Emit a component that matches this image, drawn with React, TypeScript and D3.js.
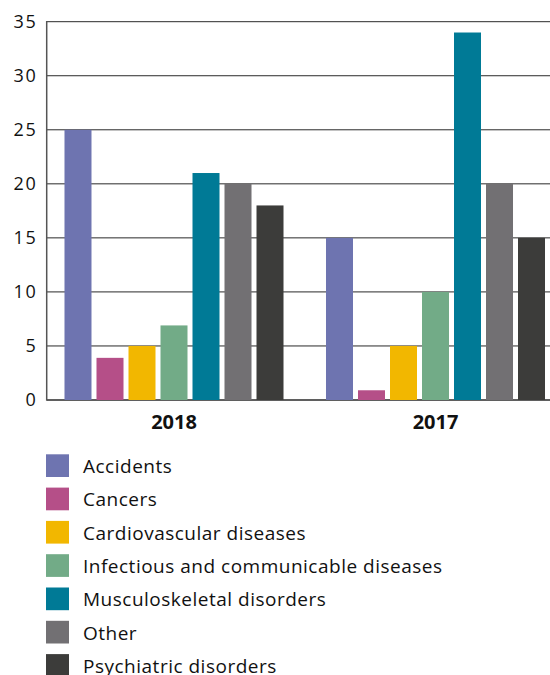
import React from "react";
import * as d3 from "d3";

// Years shown as groups along the x axis
const years = ["2018", "2017"];

// Cause categories, in legend / bar order
const causes = [
  "Accidents",
  "Cancers",
  "Cardiovascular diseases",
  "Infectious and communicable diseases",
  "Musculoskeletal disorders",
  "Other",
  "Psychiatric disorders",
];

const colors = ["#6e74b0", "#b54f88", "#f2b700", "#72ab87", "#007a96", "#727073", "#3c3c3a"];

// Values per cause, one array per year
const values2018 = [25, 3.9, 5, 6.9, 21, 20, 18];
const values2017 = [15, 0.9, 5, 10, 34, 20, 15];

const yTicks = [0, 5, 10, 15, 20, 25, 30, 35];

const W = 550;
const H = 675;
const FONT = "'Open Sans', sans-serif";

export default function App() {
  const plotLeft = 47;
  const plotRight = 550;
  const y = d3.scaleLinear().domain([0, 35]).range([400, 21.7]);

  const x0 = d3
    .scaleBand<string>()
    .domain(years)
    .range([43.25, 566.25])
    .paddingInner(0.1625)
    .paddingOuter(0.08125);

  const x1 = d3
    .scaleBand<string>()
    .domain(causes)
    .range([0, x0.bandwidth()])
    .paddingInner(5 / 32);

  const byYear: Record<string, number[]> = { "2018": values2018, "2017": values2017 };

  const legendTop = 454.3;
  const legendStep = 33.3;

  return (
    <svg
      width={W}
      height={H}
      style={{ position: "absolute", left: 0, top: 0, background: "#fff" }}
      fontFamily={FONT}
    >
      {/* gridlines */}
      {yTicks.map((t) => (
        <line
          key={"g" + t}
          x1={plotLeft}
          x2={plotRight}
          y1={y(t)}
          y2={y(t)}
          stroke="#2a2a2a"
          strokeWidth={t === 0 ? 1.4 : 1}
        />
      ))}

      {/* bars */}
      {years.map((yr) => (
        <g key={yr} transform={`translate(${x0(yr)},0)`}>
          {causes.map((c, i) => (
            <rect
              key={c}
              x={x1(c)}
              y={y(byYear[yr][i])}
              width={x1.bandwidth()}
              height={y(0) - y(byYear[yr][i])}
              fill={colors[i]}
            />
          ))}
        </g>
      ))}

      {/* y axis line */}
      <line x1={46.7} x2={46.7} y1={21} y2={400.7} stroke="#555" strokeWidth={1.5} />

      {/* y tick labels */}
      {yTicks.map((t) => (
        <text
          key={"t" + t}
          x={37.2}
          y={y(t)}
          dy="0.35em"
          textAnchor="end"
          fontSize={18}
          letterSpacing={1.5}
          fill="#111"
        >
          {t}
        </text>
      ))}

      {/* year labels */}
      {years.map((yr) => (
        <text
          key={"yl" + yr}
          x={(x0(yr) ?? 0) + x0.bandwidth() / 2}
          y={429}
          textAnchor="middle"
          fontSize={20}
          fontWeight={700}
          fill="#111"
        >
          {yr}
        </text>
      ))}

      {/* legend */}
      {causes.map((c, i) => (
        <g key={"l" + c} transform={`translate(46,${legendTop + i * legendStep})`}>
          <rect width={23} height={22.7} fill={colors[i]} />
          <text x={37} y={18.7} fontSize={19} letterSpacing={0.5} fill="#111">
            {c}
          </text>
        </g>
      ))}
    </svg>
  );
}
